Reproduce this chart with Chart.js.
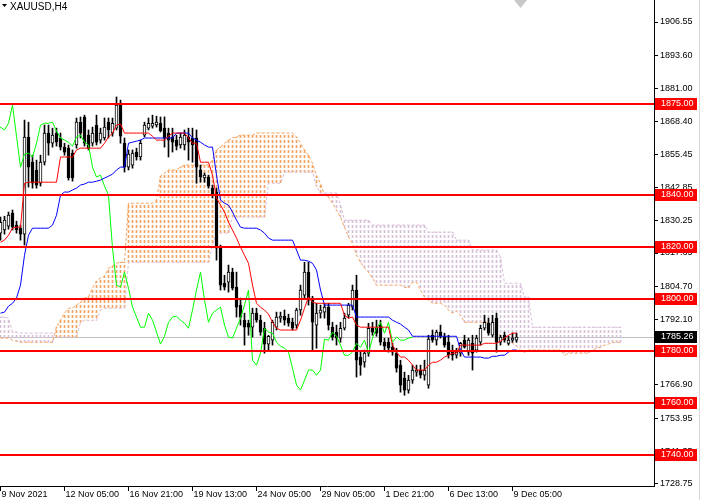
<!DOCTYPE html>
<html>
<head>
<meta charset="utf-8">
<title>XAUUSD,H4</title>
<script src="https://cdn.jsdelivr.net/npm/chart.js@4.4.1/dist/chart.umd.min.js"></script>
<style>
  html, body { margin: 0; padding: 0; background: #fff; overflow: hidden; }
  canvas { display: block; }
</style>
</head>
<body>
<canvas id="chart" width="702" height="500"></canvas>
<script>
// XAUUSD H4 candles, one entry per bar (bar 0 = 9 Nov 2021 13:00)
const opens = [1825.3,1826.5,1828.0,1833.0,1828.4,1827.2,1824.9,1862.3,1852.6,1849.6,
  1844.5,1852.6,1863.8,1859.9,1863.8,1861.9,1858.4,1858.0,1856.1,1859.2,
  1868.0,1870.0,1863.0,1859.9,1866.9,1861.1,1861.9,1868.0,1863.8,1865.7,
  1874.6,1859.9,1850.7,1851.5,1856.5,1854.6,1863.0,1865.7,1866.5,1866.9,
  1867.6,1865.7,1863.8,1862.3,1861.1,1859.2,1859.2,1862.3,1861.9,1861.9,
  1849.6,1846.5,1846.9,1842.6,1841.1,1819.5,1806.0,1806.4,1810.3,1804.5,
  1797.6,1791.8,1790.6,1789.1,1794.5,1791.8,1788.7,1782.6,1784.1,1789.1,
  1792.6,1793.3,1792.6,1791.0,1789.9,1795.7,1801.4,1810.3,1799.5,1789.9,
  1794.5,1794.9,1796.8,1789.1,1787.2,1784.9,1788.7,1793.7,1796.8,1803.4,
  1777.6,1775.6,1779.1,1788.7,1788.7,1789.9,1783.3,1783.3,1781.4,1779.1,
  1774.5,1769.5,1764.9,1768.7,1771.8,1772.6,1770.6,1766.8,1786.0,1784.1,
  1787.2,1785.3,1783.3,1779.5,1778.3,1779.1,1784.1,1779.5,1782.9,1780.3,
  1783.3,1788.7,1790.6,1786.0,1792.6,1783.3,1786.0,1782.9,1784.1,1784.1];
const highs = [1831.5,1831.8,1833.4,1834.2,1829.9,1828.4,1868.8,1868.0,1855.3,1853.4,
  1855.3,1866.9,1866.9,1865.7,1865.7,1863.8,1859.9,1859.2,1857.3,1869.6,
  1870.0,1870.7,1865.0,1866.1,1870.7,1865.7,1869.6,1869.6,1869.6,1877.7,
  1876.5,1861.9,1857.3,1857.3,1858.0,1861.1,1868.0,1869.6,1870.7,1870.3,
  1870.0,1870.0,1865.7,1865.7,1863.0,1863.8,1865.0,1865.7,1865.7,1865.0,
  1851.5,1848.4,1847.6,1843.8,1842.6,1820.7,1809.1,1813.0,1811.8,1810.3,
  1800.3,1794.5,1791.8,1796.4,1796.4,1793.7,1791.0,1786.0,1791.8,1794.9,
  1794.9,1795.7,1794.1,1792.6,1796.4,1805.3,1814.1,1814.1,1801.0,1798.3,
  1797.6,1798.3,1798.3,1791.0,1789.9,1791.0,1794.5,1798.3,1805.3,1809.1,
  1779.5,1780.3,1790.6,1791.0,1791.8,1791.8,1784.9,1784.9,1782.9,1781.0,
  1776.4,1771.8,1770.6,1774.5,1774.5,1774.5,1776.4,1786.0,1788.0,1788.0,
  1789.9,1786.8,1786.0,1782.2,1781.0,1783.3,1786.0,1784.9,1786.0,1786.0,
  1789.9,1793.7,1792.6,1793.7,1794.5,1786.0,1787.2,1785.6,1786.8,1786.8];
const lows = [1822.6,1824.9,1826.8,1826.5,1825.3,1822.6,1820.7,1843.0,1842.6,1842.6,
  1843.4,1851.5,1855.3,1858.4,1858.8,1857.3,1855.3,1845.7,1845.3,1858.0,
  1861.9,1858.8,1857.3,1858.8,1859.2,1859.9,1861.1,1861.9,1862.6,1865.0,
  1859.9,1848.8,1849.6,1850.3,1853.4,1853.4,1862.3,1865.0,1865.7,1866.1,
  1864.2,1858.4,1854.6,1856.5,1857.3,1858.0,1857.3,1853.4,1852.6,1844.5,
  1844.9,1844.9,1842.6,1838.8,1814.9,1803.4,1803.4,1802.6,1803.4,1793.0,
  1789.9,1782.2,1786.0,1785.3,1791.0,1786.0,1779.1,1780.3,1782.2,1788.0,
  1791.0,1789.9,1789.5,1788.0,1788.7,1793.7,1800.3,1797.6,1780.3,1781.0,
  1792.6,1792.6,1788.0,1784.1,1782.2,1783.3,1788.0,1792.6,1795.7,1769.9,
  1770.6,1773.7,1777.9,1786.0,1785.6,1782.2,1780.3,1779.5,1778.3,1771.8,
  1764.1,1762.9,1763.7,1767.5,1770.2,1769.5,1768.7,1765.6,1783.3,1782.2,
  1784.9,1781.4,1777.2,1776.4,1777.2,1777.9,1781.0,1778.3,1772.6,1779.5,
  1782.2,1788.0,1786.0,1785.3,1779.5,1782.2,1783.3,1782.2,1783.3,1783.3];
const closes = [1829.5,1830.3,1832.2,1827.6,1826.5,1824.9,1862.3,1850.7,1844.5,1843.8,
  1852.6,1863.8,1859.9,1863.0,1860.3,1858.4,1856.5,1846.5,1846.5,1868.0,
  1863.8,1859.9,1858.0,1863.8,1860.3,1863.8,1866.1,1865.0,1867.6,1874.6,
  1862.6,1850.7,1855.7,1856.1,1854.6,1859.9,1866.9,1867.6,1867.6,1868.0,
  1864.6,1861.9,1861.1,1860.3,1858.8,1862.3,1863.0,1860.3,1859.2,1850.7,
  1846.9,1847.6,1843.4,1839.9,1819.5,1805.3,1804.5,1810.3,1804.1,1796.8,
  1793.0,1789.1,1789.1,1794.5,1791.8,1787.2,1782.6,1785.6,1791.0,1793.0,
  1793.3,1791.8,1790.6,1788.7,1795.7,1803.4,1810.3,1799.5,1791.0,1794.5,
  1795.7,1796.8,1789.9,1785.3,1784.9,1788.7,1792.6,1797.6,1803.4,1776.4,
  1774.5,1779.1,1788.7,1787.2,1786.8,1783.3,1781.8,1781.0,1779.5,1773.3,
  1766.8,1764.9,1768.7,1772.6,1772.6,1770.6,1772.6,1784.5,1784.1,1787.2,
  1785.6,1782.2,1778.3,1778.3,1779.5,1782.9,1781.4,1784.1,1779.1,1784.9,
  1788.7,1791.0,1786.8,1791.0,1783.3,1785.3,1784.1,1784.1,1784.9,1785.26];

// Ichimoku Kinko Hyo (9, 26, 52)
const tenkan = [1821.8,1822.6,1824.5,1827.2,1827.6,1827.6,1844.5,1844.9,1844.9,1844.9,
  1844.9,1844.9,1844.9,1844.9,1844.9,1854.6,1854.6,1854.6,1854.6,1857.3,
  1858.0,1858.0,1858.0,1858.0,1858.0,1858.0,1859.9,1862.3,1863.8,1866.9,
  1867.3,1863.8,1863.8,1863.8,1863.8,1863.8,1863.8,1863.8,1862.6,1861.1,
  1861.1,1861.1,1862.6,1863.8,1863.8,1863.8,1863.8,1861.9,1859.9,1859.9,
  1852.6,1852.6,1852.6,1847.6,1838.8,1836.1,1833.4,1829.5,1826.5,1823.4,
  1819.9,1816.8,1813.7,1805.3,1798.3,1796.8,1795.7,1794.1,1791.0,1788.7,
  1788.0,1788.0,1788.0,1788.0,1788.0,1791.8,1796.4,1800.7,1798.7,1798.3,
  1798.3,1798.3,1798.3,1798.3,1798.3,1798.3,1793.7,1792.6,1793.0,1789.9,
  1789.1,1789.1,1789.1,1789.1,1789.1,1789.1,1789.1,1789.1,1782.2,1779.5,
  1777.6,1777.6,1776.4,1774.5,1772.6,1772.6,1772.6,1774.5,1775.6,1775.6,
  1776.4,1777.6,1778.3,1779.1,1779.1,1782.2,1782.2,1782.2,1782.2,1782.2,
  1782.2,1782.9,1782.9,1782.9,1782.9,1783.7,1784.9,1786.0,1786.8,1786.8];
const kijun = [1794.5,1794.9,1797.2,1798.3,1800.3,1805.3,1816.8,1824.5,1827.2,1827.2,
  1827.2,1827.2,1827.2,1828.4,1832.2,1839.9,1841.1,1841.1,1841.9,1842.6,
  1843.8,1844.2,1844.9,1844.9,1845.3,1845.7,1846.5,1847.2,1848.0,1849.6,
  1850.7,1850.7,1859.9,1860.3,1860.7,1861.1,1861.9,1861.9,1861.9,1861.9,
  1861.9,1861.9,1861.9,1861.9,1863.8,1863.8,1863.8,1863.8,1861.9,1861.1,
  1860.3,1859.2,1858.4,1858.4,1847.6,1838.0,1836.8,1836.1,1833.4,1830.3,
  1827.6,1827.2,1827.2,1827.2,1827.2,1826.5,1825.3,1823.4,1822.6,1822.6,
  1822.6,1822.6,1822.6,1822.6,1818.8,1814.9,1814.9,1814.5,1813.7,1811.1,
  1803.4,1797.6,1797.6,1797.6,1797.6,1797.6,1797.6,1797.6,1797.6,1793.0,
  1793.0,1793.0,1793.0,1793.0,1793.0,1793.0,1793.0,1793.0,1791.8,1791.0,
  1790.3,1789.1,1788.0,1785.6,1785.6,1785.6,1785.6,1785.6,1785.6,1785.6,
  1785.6,1785.6,1785.6,1785.6,1785.6,1780.3,1777.6,1777.6,1777.6,1777.6,
  1777.6,1777.2,1777.2,1777.9,1777.9,1778.3,1778.3,1779.5,1780.3,1780.3];
// senkou spans run 26 bars past the last candle
const spanA = [1784.9,1784.9,1784.9,1784.1,1783.7,1783.3,1783.3,1783.3,1783.3,1783.3,
  1783.3,1783.3,1783.3,1783.3,1789.1,1791.8,1794.5,1796.4,1796.4,1797.6,
  1798.7,1800.3,1800.7,1804.1,1806.8,1808.0,1808.7,1811.8,1812.6,1813.7,
  1814.1,1814.1,1836.8,1836.8,1836.8,1836.8,1836.8,1836.8,1836.8,1838.0,
  1847.2,1848.4,1849.6,1849.6,1849.6,1850.7,1851.5,1851.5,1851.5,1851.5,
  1851.5,1851.5,1851.5,1853.4,1857.3,1858.4,1859.9,1861.1,1861.9,1862.3,
  1863.0,1863.0,1863.0,1863.0,1863.8,1863.8,1863.8,1863.8,1863.8,1863.8,
  1863.8,1863.8,1863.8,1863.8,1862.3,1859.9,1857.3,1855.3,1852.2,1847.2,
  1844.5,1839.9,1839.2,1836.8,1834.2,1831.5,1827.6,1823.8,1821.4,1816.8,
  1814.1,1811.8,1810.3,1808.0,1805.3,1805.3,1805.3,1805.3,1805.3,1805.3,
  1805.3,1804.5,1804.1,1806.4,1806.4,1803.4,1800.7,1799.5,1798.3,1798.3,
  1798.3,1797.6,1795.7,1794.5,1795.3,1793.7,1791.0,1791.0,1791.0,1791.0,
  1791.0,1791.0,1791.0,1789.1,1787.2,1786.0,1784.9,1784.1,1782.9,1781.8,
  1780.3,1779.5,1780.3,1780.3,1780.3,1780.3,1780.3,1780.3,1780.3,1780.3,
  1780.3,1778.3,1779.1,1779.1,1779.1,1779.1,1779.1,1779.1,1780.3,1781.0,
  1781.4,1782.2,1782.6,1783.3,1783.3,1783.3];
const spanB = [1793.0,1793.0,1792.6,1787.2,1787.2,1786.8,1786.8,1786.8,1786.8,1786.8,
  1786.8,1786.8,1786.8,1786.8,1785.3,1785.3,1785.3,1785.3,1785.3,1785.3,
  1791.0,1791.8,1791.8,1791.8,1791.8,1795.7,1796.4,1796.4,1796.4,1796.4,
  1796.4,1796.4,1814.1,1814.1,1814.1,1814.1,1814.1,1814.1,1814.1,1814.1,
  1814.1,1814.1,1814.1,1814.1,1814.1,1814.1,1814.1,1814.1,1814.1,1814.1,
  1814.1,1814.1,1814.1,1820.7,1825.3,1825.3,1825.3,1825.3,1831.5,1831.5,
  1831.5,1831.5,1831.5,1831.5,1831.5,1831.5,1831.5,1844.5,1844.5,1844.5,
  1844.5,1848.8,1848.8,1848.8,1848.8,1848.8,1848.8,1848.8,1848.8,1843.4,
  1840.7,1840.7,1840.7,1840.7,1840.7,1836.1,1830.3,1830.3,1830.3,1830.3,
  1830.3,1830.3,1830.3,1828.4,1828.4,1828.4,1828.4,1828.4,1828.4,1828.4,
  1828.4,1828.4,1828.4,1828.4,1828.4,1828.4,1828.4,1825.7,1825.7,1825.7,
  1825.7,1825.7,1825.7,1825.7,1822.6,1822.6,1822.6,1822.6,1818.8,1818.8,
  1818.8,1818.8,1818.8,1818.8,1818.8,1816.1,1806.0,1806.0,1806.0,1806.0,
  1806.0,1800.7,1800.7,1789.1,1789.1,1789.1,1789.1,1789.1,1789.1,1789.1,
  1789.1,1789.1,1789.1,1789.1,1789.1,1789.1,1789.1,1789.1,1789.1,1789.1,
  1789.1,1789.1,1789.1,1789.1,1789.1,1789.1];
const chikouShift = 26;

// horizontal levels drawn on the chart
const levels = [1875, 1840, 1820, 1800, 1780, 1760, 1740];
const lastPrice = 1785.26;

// axis labels
const priceTicks = [1906.55,1893.60,1881.00,1868.40,1855.45,1842.85,1830.25,1817.65,
  1804.70,1792.10,1779.50,1766.90,1753.95,1741.35,1728.75];
const tickBars = [0, 16, 32, 48, 64, 80, 96, 112, 128];
const tickLabels = ['9 Nov 2021','12 Nov 05:00','16 Nov 21:00','19 Nov 13:00',
  '24 Nov 05:00','29 Nov 05:00','1 Dec 21:00','6 Dec 13:00','9 Dec 05:00'];

const FONT = '"Liberation Sans", Arial, sans-serif';

function hatch(color) {
  var c = document.createElement('canvas');
  c.width = 1; c.height = 5;
  var g = c.getContext('2d');
  g.fillStyle = color;
  g.fillRect(0, 0, 1, 3);
  return g.createPattern(c, 'repeat');
}

var wicks = lows.map(function (l, i) { return {x: i, y: [l, highs[i]]}; });
var bodies = opens.map(function (o, i) { return {x: i, y: [o, closes[i]]}; });
var bodyColors = opens.map(function (o, i) { return closes[i] >= o ? '#ffffff' : '#000000'; });
var cloudUp = [], cloudDown = [];
spanA.forEach(function (a, i) {
  if (a >= spanB[i]) cloudUp.push({x: i, y: [spanB[i], a]});
  else cloudDown.push({x: i, y: [a, spanB[i]]});
});
function series(arr, shift) {
  return arr.map(function (v, i) { return {x: i - (shift || 0), y: v}; });
}

var lineBase = {type: 'line', borderWidth: 1, pointRadius: 0, tension: 0, fill: false};

// plugin: level lines, bid line, price labels, symbol caption
var overlay = {
  id: 'overlay',
  beforeDatasetsDraw: function (chart) {
    var ctx = chart.ctx, a = chart.chartArea, y = chart.scales.y;
    ctx.save();
    ctx.fillStyle = '#c0c0c0';
    ctx.fillRect(a.left, Math.round(y.getPixelForValue(lastPrice)), a.right - a.left, 1);
    ctx.restore();
  },
  afterDatasetsDraw: function (chart) {
    var ctx = chart.ctx, a = chart.chartArea, y = chart.scales.y;
    ctx.save();
    ctx.fillStyle = '#ff0000';
    levels.forEach(function (v) {
      ctx.fillRect(a.left, Math.round(y.getPixelForValue(v)) - 1, a.right - a.left, 2);
    });
    ctx.restore();
  },
  afterDraw: function (chart) {
    var ctx = chart.ctx, a = chart.chartArea, y = chart.scales.y;
    ctx.save();
    ctx.font = '9px ' + FONT;
    ctx.textBaseline = 'middle';
    function tag(v, bg) {
      var py = Math.round(y.getPixelForValue(v));
      ctx.fillStyle = bg;
      ctx.fillRect(a.right + 1, py - 6, 42, 12);
      ctx.fillStyle = '#ffffff';
      ctx.fillText(v.toFixed(2), a.right + 7, py);
    }
    levels.forEach(function (v) { tag(v, '#ff0000'); });
    tag(lastPrice, '#000000');
    // symbol caption
    ctx.fillStyle = '#000000';
    ctx.beginPath();
    ctx.moveTo(2, 4); ctx.lineTo(7, 4); ctx.lineTo(4.5, 7); ctx.closePath();
    ctx.fill();
    ctx.font = '10px ' + FONT;
    ctx.fillText('XAUUSD,H4', 10, 7);
    // chart shift marker
    ctx.fillStyle = '#c8c8c8';
    ctx.beginPath();
    ctx.moveTo(514, 0); ctx.lineTo(527, 0); ctx.lineTo(520.5, 8); ctx.closePath();
    ctx.fill();
    ctx.fillStyle = '#d8d8d8';
    ctx.fillRect(699, 0, 1, chart.height);
    ctx.restore();
  }
};

new Chart('chart', {
  type: 'bar',
  data: {
    datasets: [
      Object.assign({}, lineBase, {label: 'Tenkan-sen', data: series(tenkan), borderColor: '#ff0000', order: 0}),
      Object.assign({}, lineBase, {label: 'Kijun-sen', data: series(kijun), borderColor: '#0000ff', order: 1}),
      Object.assign({}, lineBase, {label: 'Chikou Span', data: series(closes, chikouShift), borderColor: '#00ff00', order: 2}),
      {label: 'Body', data: bodies, backgroundColor: bodyColors, borderColor: '#000000', borderWidth: 1,
        borderSkipped: false, barThickness: 3, minBarLength: 1, grouped: false, order: 3},
      {label: 'Wick', data: wicks, backgroundColor: '#000000', borderWidth: 0,
        barThickness: 1, grouped: false, order: 4},
      Object.assign({}, lineBase, {label: 'Senkou Span A', data: series(spanA), borderColor: '#f4a460', borderDash: [3, 2], order: 5}),
      Object.assign({}, lineBase, {label: 'Senkou Span B', data: series(spanB), borderColor: '#d8bfd8', borderDash: [3, 2], order: 6}),
      {label: 'Kumo up', data: cloudUp, backgroundColor: hatch('#f4a460'), borderWidth: 0,
        barThickness: 1, grouped: false, order: 7},
      {label: 'Kumo down', data: cloudDown, backgroundColor: hatch('#d8bfd8'), borderWidth: 0,
        barThickness: 1, grouped: false, order: 8}
    ]
  },
  options: {
    responsive: false,
    devicePixelRatio: 1,
    animation: false,
    layout: {padding: 0, autoPadding: false},
    plugins: {legend: {display: false}, tooltip: {enabled: false}},
    scales: {
      x: {
        type: 'linear',
        min: -0.125,
        max: 163.375,
        offset: false,
        grid: {drawOnChartArea: false, offset: false, tickLength: 5, color: '#000000'},
        border: {color: '#000000'},
        afterBuildTicks: function (s) { s.ticks = tickBars.map(function (v) { return {value: v}; }); },
        afterFit: function (s) { s.height = 14; s.paddingLeft = 0; s.paddingRight = 0; },
        ticks: {
          align: 'start', labelOffset: 1, padding: -2, maxRotation: 0, autoSkip: false,
          color: '#000000', font: {family: FONT, size: 9},
          callback: function (v) { return tickLabels[tickBars.indexOf(v)]; }
        }
      },
      y: {
        position: 'right',
        min: 1727.98,
        max: 1915.02,
        grid: {drawOnChartArea: false, tickLength: 4, color: '#000000'},
        border: {color: '#000000'},
        afterBuildTicks: function (s) { s.ticks = priceTicks.map(function (v) { return {value: v}; }); },
        afterFit: function (s) { s.width = 48; s.paddingTop = 0; s.paddingBottom = 0; },
        ticks: {
          padding: 2, color: '#000000', font: {family: FONT, size: 9},
          callback: function (v) { return v.toFixed(2); }
        }
      }
    }
  },
  plugins: [overlay]
});
</script>
</body>
</html>
